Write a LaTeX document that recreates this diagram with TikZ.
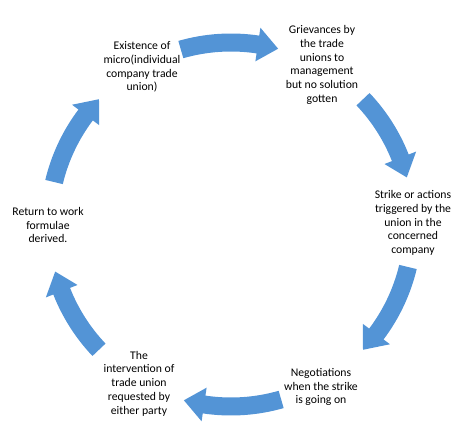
\documentclass[tikz,border=0pt]{standalone}
\usepackage{fontspec}
\setmainfont{Carlito}
\usepackage{tikz}
\definecolor{arrowblue}{RGB}{83,148,214}

\begin{document}
\begin{tikzpicture}[
	stage/.style={align=center, inner sep=0pt, font=\fontsize{11.7}{13.7}\selectfont},
	bendarrow/.style={fill=arrowblue, draw=none}]

	\useasboundingbox (-231pt,-206.5pt) rectangle (233pt,224.5pt);

	\node[stage] (exist)  at (-89pt,157.5pt)  {Existence of\\micro(individual\\company trade\\union)};
	\node[stage] (griev)  at (91pt,159.5pt)   {Grievances by\\the trade\\unions to\\management\\but no solution\\gotten};
	\node[stage] (strike) at (182pt,1.5pt)    {Strike or actions\\triggered by the\\union in the\\concerned\\company};
	\node[stage] (negot)  at (90pt,-162.5pt)  {Negotiations\\when the strike\\is going on};
	\node[stage] (interv) at (-92pt,-159pt)   {The\\intervention of\\trade union\\requested by\\either party};
	\node[stage] (ret)    at (-183pt,-0.5pt)  {Return to work\\formulae\\derived.};

	% arrows between the stages, tail angle / tip angle
	\foreach \a/\b in {106/75, 43.5/15, -13.5/-43.5, -74/-105, -136.5/-165, 166.5/136.5} {
		\pgfmathsetmacro\h{\b+6.5}
		\fill[bendarrow] (\a:191pt) arc[start angle=\a, end angle=\h, radius=191pt]
			-- (\h:199pt) -- (\b:182pt) -- (\h:165pt) -- (\h:173pt)
			arc[start angle=\h, end angle=\a, radius=173pt] -- cycle;
	}

\end{tikzpicture}
\end{document}
